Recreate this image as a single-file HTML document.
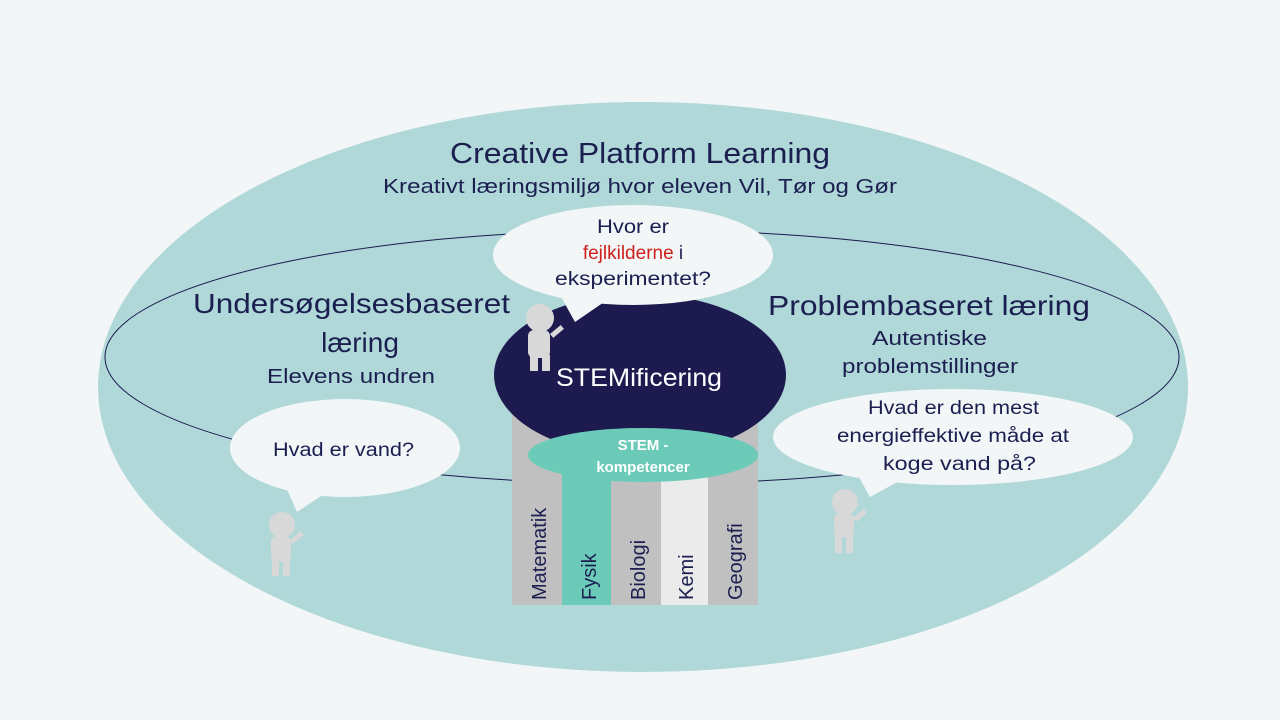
<!DOCTYPE html>
<html><head><meta charset="utf-8"><style>
body{margin:0;background:#f2f6f7}
svg{display:block}
text{font-family:"Liberation Sans",sans-serif}
</style></head><body>
<svg width="1280" height="720" viewBox="0 0 1280 720">
<rect width="1280" height="720" fill="#f2f6f7"/>
<ellipse cx="643" cy="387" rx="545" ry="285" fill="#b0d8d8"/>
<ellipse cx="642" cy="357" rx="537" ry="127" fill="none" stroke="#1a1a4e" stroke-width="1"/>
<g fill="#1b1f50">
<text x="450" y="163" font-size="29" textLength="380" lengthAdjust="spacingAndGlyphs">Creative Platform Learning</text>
<text x="383" y="193" font-size="20" textLength="514" lengthAdjust="spacingAndGlyphs">Kreativt læringsmiljø hvor eleven Vil, Tør og Gør</text>
<text x="193" y="313" font-size="28" textLength="317" lengthAdjust="spacingAndGlyphs">Undersøgelsesbaseret</text>
<text x="360" y="352" font-size="28" text-anchor="middle">læring</text>
<text x="267" y="383" font-size="20" textLength="168" lengthAdjust="spacingAndGlyphs">Elevens undren</text>
<text x="768" y="315" font-size="28" textLength="322" lengthAdjust="spacingAndGlyphs">Problembaseret  læring</text>
<text x="872" y="345" font-size="20" textLength="115" lengthAdjust="spacingAndGlyphs">Autentiske</text>
<text x="842" y="373" font-size="20" textLength="176" lengthAdjust="spacingAndGlyphs">problemstillinger</text>
</g>
<rect x="512" y="410" width="50" height="195" fill="#c0c0c0"/>
<rect x="562" y="410" width="49" height="195" fill="#6ccbb8"/>
<rect x="611" y="410" width="50" height="195" fill="#c0c0c0"/>
<rect x="661" y="410" width="47" height="195" fill="#ebebeb"/>
<rect x="708" y="410" width="50" height="195" fill="#c0c0c0"/>
<g font-size="20" fill="#1b1f50">
<text transform="translate(546,600) rotate(-90)">Matematik</text>
<text transform="translate(596,600) rotate(-90)">Fysik</text>
<text transform="translate(645,600) rotate(-90)">Biologi</text>
<text transform="translate(693,600) rotate(-90)">Kemi</text>
<text transform="translate(742,600) rotate(-90)">Geografi</text>
</g>
<ellipse cx="640" cy="375" rx="146" ry="81" fill="#1c1a4e"/>
<text x="556" y="386" font-size="25" fill="#fff" textLength="166" lengthAdjust="spacingAndGlyphs">STEMificering</text>
<ellipse cx="643" cy="455" rx="115" ry="27" fill="#6ccbb8"/>
<text x="643" y="450" text-anchor="middle" font-size="15" font-weight="bold" fill="#fff">STEM -</text>
<text x="643" y="472" text-anchor="middle" font-size="15" font-weight="bold" fill="#fff">kompetencer</text>
<g fill="#f2f6f7">
<ellipse cx="633" cy="255" rx="140" ry="50"/>
<polygon points="560,295 575,322 610,298"/>
<ellipse cx="345" cy="448" rx="115" ry="49"/>
<polygon points="285,485 297,512 330,490"/>
<ellipse cx="953" cy="437" rx="180" ry="48"/>
<polygon points="855,470 870,497 905,478"/>
</g>
<g font-size="19" fill="#1b1f50">
<text x="597" y="233" textLength="72" lengthAdjust="spacingAndGlyphs">Hvor er</text>
<text x="633" y="259" text-anchor="middle"><tspan fill="#d0201c">fejlkilderne</tspan> i</text>
<text x="555" y="285" textLength="156" lengthAdjust="spacingAndGlyphs">eksperimentet?</text>
<text x="273" y="456" textLength="141" lengthAdjust="spacingAndGlyphs">Hvad er vand?</text>
<text x="868" y="414" textLength="171" lengthAdjust="spacingAndGlyphs">Hvad er den mest</text>
<text x="837" y="442" textLength="232" lengthAdjust="spacingAndGlyphs">energieffektive måde at</text>
<text x="883" y="470" textLength="153" lengthAdjust="spacingAndGlyphs">koge vand på?</text>
</g>
<g fill="#d8d8d8">
<circle cx="540" cy="318" r="14"/><rect x="528" y="330" width="22" height="28" rx="6"/><rect x="530" y="355" width="8" height="16"/><rect x="542" y="355" width="8" height="16"/><rect x="550" y="334" width="14" height="5" transform="rotate(-40 550 334)"/>
<circle cx="282" cy="525" r="13"/><rect x="271" y="536" width="20" height="26" rx="6"/><rect x="272" y="558" width="7" height="18"/><rect x="283" y="558" width="7" height="18"/><rect x="290" y="540" width="14" height="5" transform="rotate(-40 290 540)"/>
<circle cx="845" cy="502" r="13"/><rect x="834" y="513" width="20" height="24" rx="6"/><rect x="835" y="535" width="7" height="18"/><rect x="846" y="535" width="7" height="18"/><rect x="853" y="518" width="14" height="5" transform="rotate(-40 853 518)"/>
</g>
</svg>
</body></html>
